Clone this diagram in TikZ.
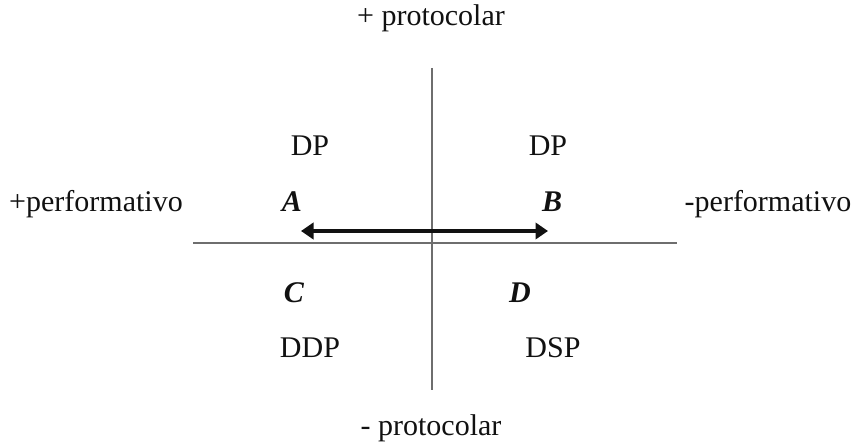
\documentclass[tikz,border=0pt]{standalone}
\usepackage{fontspec}
\setmainfont{Liberation Serif}
\usepackage{xcolor}
\usetikzlibrary{arrows.meta,positioning}
\definecolor{ink}{HTML}{111111}
\definecolor{axisgray}{HTML}{6E6E6E}
\tikzset{
  lbl/.style={inner sep=0pt, font=\fontsize{12}{14}\selectfont, text=ink},
  corner/.style={lbl, font=\fontsize{12}{14}\selectfont\bfseries\itshape},
  axis/.style={draw=axisgray, line width=0.55pt},
  bigarrow/.style={{Triangle[length=5pt,width=6.5pt]}-{Triangle[length=5pt,width=6.5pt]}, line width=1.7pt, draw=ink}
}

\begin{document}
\begin{tikzpicture}[x=0.4pt, y=-0.4pt]
  \useasboundingbox (0,0) rectangle (853,446);
  % axes
  \coordinate (top) at (432,68);
  \coordinate (bottom) at (432,390);
  \coordinate (left) at (193,243);
  \coordinate (right) at (677,243);
  \draw[axis] (top) -- (bottom);
  \draw[axis] (left) -- (right);
  % axis labels
  \node[lbl] (plusprot) at (431,18) {+ protocolar};
  \node[lbl] (minusprot) at (431,428) {- protocolar};
  \node[lbl] (plusperf) at (96,204) {+performativo};
  \node[lbl] (minusperf) at (768,204) {-performativo};
  % quadrants
  \node[lbl] (dpA) at (310,146) {DP};
  \node[lbl] (dpB) at (548,146) {DP};
  \node[corner] (qA) at (292,202) {A};
  \node[corner] (qB) at (552,202) {B};
  \node[corner] (qC) at (294,293) {C};
  \node[corner] (qD) at (520,293) {D};
  \node[lbl] (ddp) at (310,348) {DDP};
  \node[lbl] (dsp) at (553,348) {DSP};
  % arrow A <-> B
  \coordinate (arrL) at (301,231);
  \coordinate (arrR) at (548,231);
  \draw[bigarrow] (arrL) -- (arrR);
\end{tikzpicture}
\end{document}
